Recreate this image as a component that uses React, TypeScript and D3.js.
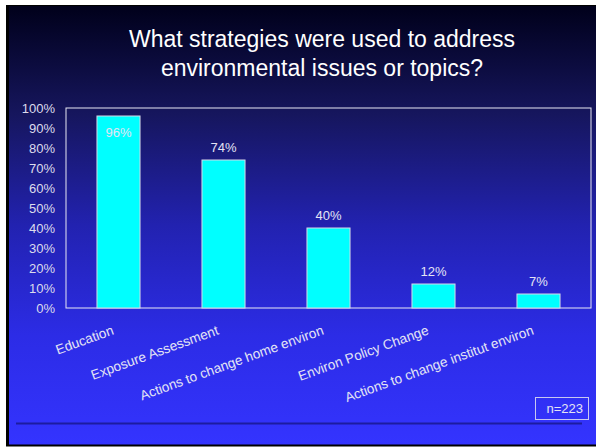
import React from "react";
import * as d3 from "d3";

const categories = [
  "Education",
  "Exposure Assessment",
  "Actions to change home environ",
  "Environ Policy Change",
  "Actions to change institut environ",
];
const values = [96, 74, 40, 12, 7];
const yTicks = [0, 10, 20, 30, 40, 50, 60, 70, 80, 90, 100];
const titleLines = ["What strategies were used to address", "environmental issues or topics?"];
const noteText = "n=223";

const W = 596;
const H = 447;
const plot = { left: 66, right: 591, top: 108, bottom: 308 };
const FONT = "Arial, 'Liberation Sans', Helvetica, sans-serif";

export default function App() {
  const x = d3
    .scaleBand<string>()
    .domain(categories)
    .range([plot.left, plot.right])
    .paddingInner(0.59)
    .paddingOuter(0.295);
  const y = d3.scaleLinear().domain([0, 100]).range([plot.bottom, plot.top]);
  const band = (plot.right - plot.left) / categories.length;

  return (
    <div style={{ position: "absolute", left: 0, top: 0, width: W, height: H, background: "#fff" }}>
      <svg width={W} height={H} style={{ display: "block" }}>
        <defs>
          <linearGradient id="bg" x1="0" y1="0" x2="0" y2="1">
            <stop offset="0" stopColor="#00001a" />
            <stop offset="0.25" stopColor="#16165e" />
            <stop offset="0.5" stopColor="#2222b0" />
            <stop offset="0.75" stopColor="#2c2ce6" />
            <stop offset="1" stopColor="#3434ff" />
          </linearGradient>
        </defs>
        <rect x={6} y={5} width={W - 6} height={441} fill="url(#bg)" />
        <line x1={7.5} y1={5} x2={7.5} y2={446} stroke="#000" strokeWidth={3} />
        <line x1={6} y1={445.5} x2={W} y2={445.5} stroke="#000" strokeWidth={2} />
        <line x1={6} y1={5.5} x2={W} y2={5.5} stroke="#000" strokeWidth={1} />

        {titleLines.map((t, i) => (
          <text
            key={i}
            x={322}
            y={47 + i * 29}
            textAnchor="middle"
            fill="#ffffff"
            fontFamily={FONT}
            fontSize={23}
          >
            {t}
          </text>
        ))}

        <rect
          x={plot.left}
          y={plot.top}
          width={plot.right - plot.left}
          height={plot.bottom - plot.top}
          fill="none"
          stroke="#e8e8f4"
          strokeWidth={1}
        />

        {yTicks.map((t) => (
          <text
            key={t}
            x={55}
            y={y(t)}
            dy="0.36em"
            textAnchor="end"
            fill="#dcdcec"
            fontFamily={FONT}
            fontSize={13}
          >
            {t}%
          </text>
        ))}

        {categories.map((c, i) => {
          const v = values[i];
          const bx = x(c)!;
          const bw = x.bandwidth();
          const inside = v > 90;
          return (
            <g key={c}>
              <rect
                x={bx}
                y={y(v)}
                width={bw}
                height={y(0) - y(v)}
                fill="#00ffff"
                stroke="#d8d8e8"
                strokeWidth={1}
              />
              <text
                x={bx + bw / 2}
                y={inside ? y(v) + 21 : y(v) - 8}
                textAnchor="middle"
                fill="#e4e4f4"
                fontFamily={FONT}
                fontSize={13}
              >
                {v}%
              </text>
            </g>
          );
        })}

        {categories.map((c, i) => {
          const cx = plot.left + band * (i + 0.5) - 4;
          const cy = 334;
          return (
            <text
              key={c}
              x={cx}
              y={cy}
              textAnchor="end"
              transform={`rotate(-20, ${cx}, ${cy})`}
              fill="#e4e4f4"
              fontFamily={FONT}
              fontSize={13.6}
            >
              {c}
            </text>
          );
        })}

        <rect x={535.5} y={397.5} width={53} height={22} fill="none" stroke="#c8c8f0" strokeWidth={1} />
        <text x={583} y={413} textAnchor="end" fill="#e4e4f4" fontFamily={FONT} fontSize={13}>
          {noteText}
        </text>

        <line x1={16} y1={423.5} x2={582} y2={423.5} stroke="#1c1ca0" strokeWidth={2} />
      </svg>
    </div>
  );
}
